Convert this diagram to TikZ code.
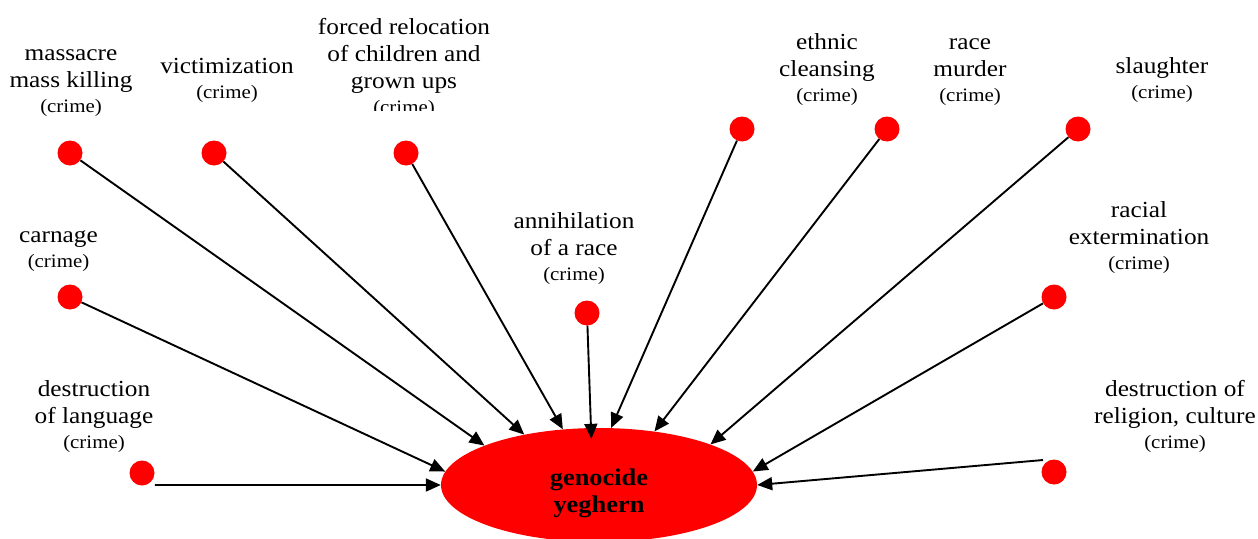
\documentclass[tikz,border=0pt]{standalone}
\usepackage{fontspec}
\setmainfont{Liberation Serif}[FakeStretch=1.1]
\usetikzlibrary{arrows.meta,shapes.geometric}
\newcommand\crm{\\[-2pt]{\fontsize{19}{27}\selectfont (crime)}}
\begin{document}
\begin{tikzpicture}[x=1pt,y=-1pt,
  dotn/.style={circle,fill=red,minimum size=25pt,inner sep=0pt},
  lbl/.style={align=center,font=\fontsize{23}{27}\selectfont,inner sep=0pt,anchor=base},
  arr/.style={-{Triangle[length=15pt,width=13pt]},line width=1.9pt,black},
]
\path[use as bounding box] (0,0) rectangle (1258,538);
% central node
\node[ellipse,fill=red,minimum width=316pt,minimum height=114pt,inner sep=0pt] (gen) at (599,485) {};
\node[align=center,inner sep=0pt,font=\fontsize{24}{27}\selectfont\bfseries] (gentxt) at (599,493) {genocide\\yeghern};
% dots
\node[dotn] (mas) at (70,153) {};
\node[dotn] (vic) at (214,153) {};
\node[dotn] (frc) at (406,153) {};
\node[dotn] (ann) at (587,313) {};
\node[dotn] (eth) at (742,129) {};
\node[dotn] (rac) at (887,129) {};
\node[dotn] (sla) at (1078,129) {};
\node[dotn] (car) at (70,297) {};
\node[dotn] (lan) at (142,473) {};
\node[dotn] (ext) at (1054,297) {};
\node[dotn] (rel) at (1054,472) {};
% labels (anchored at the baseline of the last line)
\node[lbl] (tmas) at (71,112) {massacre\\mass killing\crm};
\node[lbl] (tvic) at (227,98) {victimization\crm};
\begin{scope}
\clip (300,0) rectangle (520,110);
\node[lbl] (tfrc) at (404,113) {forced relocation\\of children and\\grown ups\crm};
\end{scope}
\node[lbl] (tann) at (574,280) {annihilation\\of a race\crm};
\node[lbl] (teth) at (827,101) {ethnic\\cleansing\crm};
\node[lbl] (trac) at (970,101) {race\\murder\crm};
\node[lbl] (tsla) at (1162,98) {slaughter\crm};
\node[lbl] (tcar) at (58.5,267) {carnage\crm};
\node[lbl] (tlan) at (94,448) {destruction\\of language\crm};
\node[lbl] (text) at (1139,269) {racial\\extermination\crm};
\node[lbl] (trel) at (1175,448) {destruction of\\religion, culture\crm};
% connectors
\draw[arr] (mas) -- (gen.161);
\draw[arr] (vic) -- (gen.146);
\draw[arr] (frc) -- (gen.123);
\draw[arr,shorten >=-11pt] (ann) -- (gen.98);
\draw[arr] (eth) -- (gen.78);
\draw[arr] (rac) -- (gen.44);
\draw[arr] (sla) -- (gen.20);
\draw[arr] (car) -- (gen.175);
\draw[arr] ([xshift=4pt,yshift=-3pt]lan.south east) -- (gen.west);
\draw[arr] (ext) -- (gen.5);
\draw[arr] ([xshift=-2pt,yshift=3pt]rel.north west) -- (gen.east);
\end{tikzpicture}
\end{document}
